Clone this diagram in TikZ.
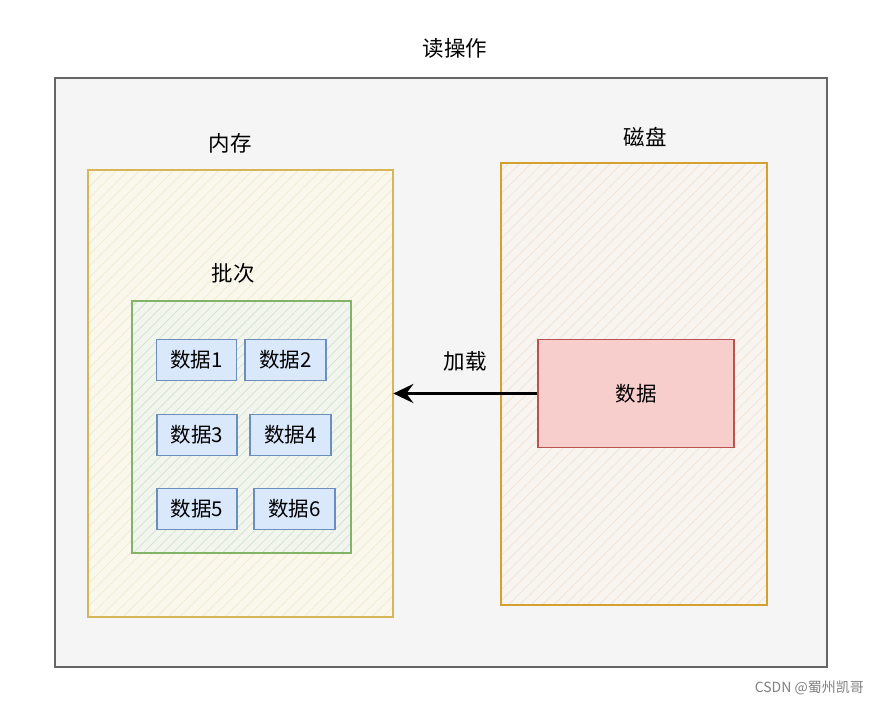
\documentclass[tikz,border=0pt]{standalone}
\usepackage{fontspec}
\setmainfont{Noto Sans CJK SC}
\usetikzlibrary{arrows.meta,patterns.meta}
\definecolor{bgGray}{HTML}{F5F5F5}
\definecolor{lineGray}{HTML}{666666}
\definecolor{memFill}{HTML}{FAF7EC}
\definecolor{memHatch}{HTML}{F2EAD0}
\definecolor{memLine}{HTML}{D6B656}
\definecolor{diskFill}{HTML}{F8F4EF}
\definecolor{diskHatch}{HTML}{F1E3D6}
\definecolor{diskLine}{HTML}{D5A12E}
\definecolor{batchFill}{HTML}{F1F5EE}
\definecolor{batchHatch}{HTML}{CFE2CB}
\definecolor{batchLine}{HTML}{82B366}
\definecolor{itemFill}{HTML}{DAE8FC}
\definecolor{itemLine}{HTML}{6C8EBF}
\definecolor{srcFill}{HTML}{F8CECC}
\definecolor{srcLine}{HTML}{B85450}

\begin{document}
\begin{tikzpicture}[
        x=1pt, y=-1pt,
        every node/.style={font=\fontsize{20.5}{24}\selectfont, inner sep=0pt},
        caption/.style={font=\fontsize{21.5}{25}\selectfont},
        outer/.style={
                draw=lineGray,
                line width=1.5pt,
                fill=bgGray,
                minimum width=772pt,
                minimum height=589pt
            },
        store/.style={
                draw=memLine,
                line width=2pt,
                preaction={fill=memFill},
                pattern={Lines[angle=45,distance=8pt,line width=0.7pt]},
                pattern color=memHatch
            },
        disk/.style={
                store,
                draw=diskLine,
                preaction={fill=diskFill},
                pattern color=diskHatch
            },
        batch/.style={
                draw=batchLine,
                line width=1.6pt,
                preaction={fill=batchFill},
                pattern={Lines[angle=45,distance=7pt,line width=0.7pt]},
                pattern color=batchHatch
            },
        item/.style={
                draw=itemLine,
                line width=1.2pt,
                fill=itemFill,
                minimum height=41pt
            },
        source/.style={
                draw=srcLine,
                line width=1.2pt,
                fill=srcFill,
                minimum width=196pt,
                minimum height=108pt
            },
    ]
    \useasboundingbox (0,0) rectangle (880,706);
    % Frame
    \node[outer] (frame) at (441,372.5) {};
    \node[caption] (title) at (455,48) {读操作};
    % Memory side
    \node[store, minimum width=305pt, minimum height=447pt] (memory) at (240.5,393.5) {};
    \node[caption] (memoryLabel) at (230,143) {内存};
    \node[batch, minimum width=219pt, minimum height=252pt] (batch) at (241.5,427) {};
    \node[caption] (batchLabel) at (233,273) {批次};
    \node[item, minimum width=80pt] (data1) at (196.5,360) {数据1};
    \node[item, minimum width=81pt] (data2) at (285.5,360) {数据2};
    \node[item, minimum width=80pt] (data3) at (197,435) {数据3};
    \node[item, minimum width=81pt] (data4) at (290.5,435) {数据4};
    \node[item, minimum width=80pt] (data5) at (197,509) {数据5};
    \node[item, minimum width=81pt] (data6) at (294.5,509) {数据6};
    % Disk side
    \node[disk, minimum width=266pt, minimum height=442pt] (disk) at (634,384) {};
    \node[caption] (diskLabel) at (645,137) {磁盘};
    \node[source] (block) at (636,393.5) {数据};
    % Load
    \draw[line width=3pt, -{Stealth[length=20pt,width=19pt,inset=7pt]}] (block.west) -- (memory.east |- block.west);
    \node[caption] (loadLabel) at (465,361) {加载};
    \node[font=\fontsize{14}{16}\selectfont, text=gray, anchor=east] (mark) at (864,688) {CSDN @蜀州凯哥};
\end{tikzpicture}
\end{document}
